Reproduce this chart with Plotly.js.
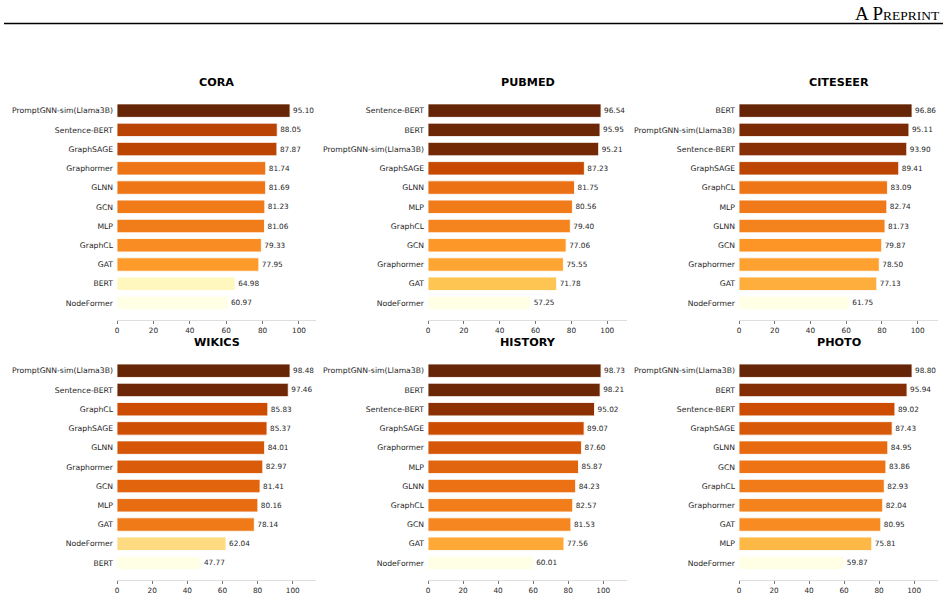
<!DOCTYPE html>
<html>
<head>
<meta charset="utf-8">
<script src="https://cdn.plot.ly/plotly-3.0.1.min.js"></script>
<style>html,body{margin:0;padding:0;background:#fff;}#chart{width:948px;height:597px;}</style>
</head>
<body>
<div id="chart"></div>
<script>
// ---- data ----
const titles = ["CORA", "PUBMED", "CITESEER", "WIKICS", "HISTORY", "PHOTO"];

const coraMethods = ["PromptGNN-sim(Llama3B)", "Sentence-BERT", "GraphSAGE", "Graphormer", "GLNN", "GCN", "MLP", "GraphCL", "GAT", "BERT", "NodeFormer"];
const coraValues = [95.10, 88.05, 87.87, 81.74, 81.69, 81.23, 81.06, 79.33, 77.95, 64.98, 60.97];

const pubmedMethods = ["Sentence-BERT", "BERT", "PromptGNN-sim(Llama3B)", "GraphSAGE", "GLNN", "MLP", "GraphCL", "GCN", "Graphormer", "GAT", "NodeFormer"];
const pubmedValues = [96.54, 95.95, 95.21, 87.23, 81.75, 80.56, 79.40, 77.06, 75.55, 71.78, 57.25];

const citeseerMethods = ["BERT", "PromptGNN-sim(Llama3B)", "Sentence-BERT", "GraphSAGE", "GraphCL", "MLP", "GLNN", "GCN", "Graphormer", "GAT", "NodeFormer"];
const citeseerValues = [96.86, 95.11, 93.90, 89.41, 83.09, 82.74, 81.73, 79.87, 78.50, 77.13, 61.75];

const wikicsMethods = ["PromptGNN-sim(Llama3B)", "Sentence-BERT", "GraphCL", "GraphSAGE", "GLNN", "Graphormer", "GCN", "MLP", "GAT", "NodeFormer", "BERT"];
const wikicsValues = [98.48, 97.46, 85.83, 85.37, 84.01, 82.97, 81.41, 80.16, 78.14, 62.04, 47.77];

const historyMethods = ["PromptGNN-sim(Llama3B)", "BERT", "Sentence-BERT", "GraphSAGE", "Graphormer", "MLP", "GLNN", "GraphCL", "GCN", "GAT", "NodeFormer"];
const historyValues = [98.73, 98.21, 95.02, 89.07, 87.60, 85.87, 84.23, 82.57, 81.53, 77.56, 60.01];

const photoMethods = ["PromptGNN-sim(Llama3B)", "BERT", "Sentence-BERT", "GraphSAGE", "GLNN", "GCN", "GraphCL", "Graphormer", "GAT", "MLP", "NodeFormer"];
const photoValues = [98.80, 95.94, 89.02, 87.43, 84.95, 83.86, 82.93, 82.04, 80.95, 75.81, 59.87];

const xTicks = [0, 20, 40, 60, 80, 100];

// ---- styling ----
const ylOrBr = [
  [0, "#ffffe5"], [0.125, "#fff7bc"], [0.25, "#fee391"], [0.375, "#fec44f"],
  [0.5, "#fe9929"], [0.625, "#ec7014"], [0.75, "#cc4c02"], [0.875, "#993404"], [1, "#662506"]
];
const FONT = "DejaVu Sans, Verdana, sans-serif";
const W = 948, H = 597;

const panels = [
  [coraMethods, coraValues], [pubmedMethods, pubmedValues], [citeseerMethods, citeseerValues],
  [wikicsMethods, wikicsValues], [historyMethods, historyValues], [photoMethods, photoValues]
];

const colPx = [[117, 316], [428, 627], [739, 938]];
const rowPx = [[93.6, 320], [353.7, 580]];
const titleY = [82.7, 342.3];

const data = [];
const layout = {
  width: W, height: H,
  margin: {l: 0, r: 0, t: 0, b: 0},
  paper_bgcolor: "#ffffff", plot_bgcolor: "#ffffff",
  showlegend: false,
  bargap: 0.3,
  font: {family: FONT, color: "#262626"},
  annotations: [],
  shapes: []
};

panels.forEach(function (p, i) {
  const methods = p[0], values = p[1];
  const r = Math.floor(i / 3), c = i % 3;
  const sfx = i === 0 ? "" : String(i + 1);
  const vmax = Math.max.apply(null, values), vmin = Math.min.apply(null, values);
  data.push({
    type: "bar", orientation: "h",
    x: values, y: methods,
    xaxis: "x" + sfx, yaxis: "y" + sfx,
    marker: {
      color: values, cmin: vmin, cmax: vmax, colorscale: ylOrBr, showscale: false,
      line: {color: "rgba(255,255,255,0.85)", width: 1}
    },
    text: values.map(function (v) { return v.toFixed(2); }),
    textposition: "outside",
    constraintext: "none",
    cliponaxis: false,
    textfont: {family: FONT, size: 7.3, color: "#262626"},
    hoverinfo: "x+y"
  });
  const xd = [colPx[c][0] / W, colPx[c][1] / W];
  const yd = [(H - rowPx[r][1]) / H, (H - rowPx[r][0]) / H];
  layout["xaxis" + sfx] = {
    domain: xd, anchor: "y" + sfx,
    range: [0, vmax * 1.15],
    tickvals: xTicks, ticktext: xTicks.map(String),
    ticks: "outside", ticklen: 3, tickwidth: 0.8, tickcolor: "#555555",
    showline: true, linecolor: "#dedede", linewidth: 1,
    showgrid: false, zeroline: false,
    tickfont: {family: FONT, size: 7.3, color: "#262626"}
  };
  layout["yaxis" + sfx] = {
    domain: yd, anchor: "x" + sfx,
    type: "category", categoryorder: "array", categoryarray: methods,
    range: [methods.length - 1 + 0.885, -0.885],
    showline: false, showgrid: false, zeroline: false, ticks: "",
    ticklabelstandoff: 3,
    tickfont: {family: FONT, size: 7.7, color: "#262626"}
  };
  layout.annotations.push({
    text: "<b>" + titles[i] + "</b>",
    xref: "paper", yref: "paper",
    x: (xd[0] + xd[1]) / 2, y: (H - titleY[r]) / H,
    xanchor: "center", yanchor: "middle", showarrow: false,
    font: {family: FONT, size: 11.2, color: "#000000"}
  });
});

// page header
layout.annotations.push({
  text: 'A P<span style="font-size:13.5px">REPRINT</span>',
  xref: "paper", yref: "paper",
  x: 942 / W, y: (H - 13.5) / H,
  xanchor: "right", yanchor: "middle", showarrow: false,
  font: {family: "Liberation Serif, Times New Roman, serif", size: 19, color: "#000000"}
});
layout.shapes.push({
  type: "line", xref: "paper", yref: "paper",
  x0: 4 / W, x1: 943 / W, y0: (H - 23.5) / H, y1: (H - 23.5) / H,
  line: {color: "#000000", width: 1.4}
});

Plotly.newPlot("chart", data, layout, {displayModeBar: false, staticPlot: true});
</script>
</body>
</html>
